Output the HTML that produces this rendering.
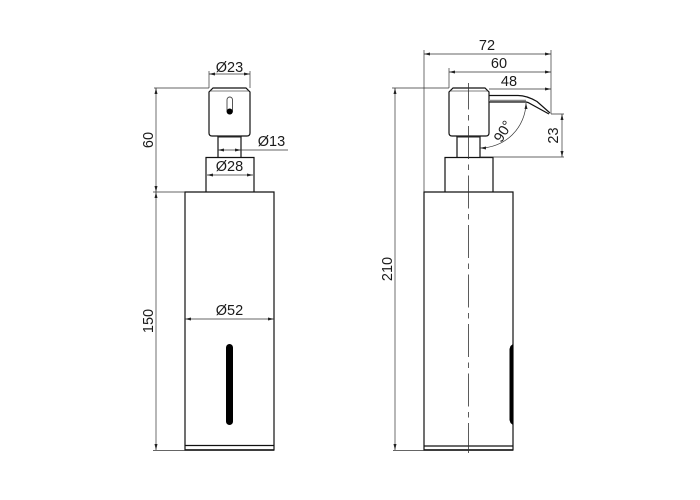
<!DOCTYPE html>
<html>
<head>
<meta charset="utf-8">
<style>
html,body{margin:0;padding:0;background:#fff;width:700px;height:500px;overflow:hidden}
svg{display:block}
text{font-family:"Liberation Sans",sans-serif;font-size:14.5px;fill:#1a1a1a}
.o{fill:none;stroke:#111;stroke-width:1.2}
.d{fill:none;stroke:#333;stroke-width:.7}
.a{fill:#222;stroke:none}
</style>
</head>
<body>
<svg width="700" height="500" viewBox="0 0 700 500" xmlns="http://www.w3.org/2000/svg">
<!-- LEFT VIEW -->
<path class="o" d="M185 450V192H274V450Z"/>
<path class="o" d="M185 445.500H274"/>
<path d="M185 450H274" fill="none" stroke="#111" stroke-width="1.400"/>
<rect x="226" y="344" width="7" height="81" rx="3.500" fill="#000"/>
<path class="o" d="M206 192V157.500H254V192"/>
<path class="o" d="M218 136.500V157.500M241 136.500V157.500"/>
<path class="o" d="M213 88H246L250 92V133Q250 136 247 136H212Q209 136 209 133V92Z"/>
<path d="M210.500 91H248.500" stroke="#555" stroke-width=".8" fill="none"/>
<path d="M218 136.500H241" stroke="#222" stroke-width="2" fill="none"/>
<rect x="227" y="97" width="5.500" height="17" rx="2.750" fill="#fff" stroke="#444" stroke-width=".9"/>
<circle cx="229.700" cy="111.500" r="3" fill="#000"/>
<!-- left dims -->
<path class="d" d="M154 88H209M153 192H185M153 450.500H185M156 88V192M156 192V450"/>
<path class="a" d="M156 88l-1.500 6h3zM156 192l-1.500-6h3zM156 192l-1.500 6h3zM156 450l-1.500-6h3z"/>
<path class="d" d="M209 71V88M250 71V88M209 74H250"/>
<path class="a" d="M209 74l6-1.500v3zM250 74l-6-1.500v3z"/>
<path class="d" d="M218 150H288"/>
<path class="a" d="M218 150l6-1.500v3zM241 150l-6-1.500v3z"/>
<path class="d" d="M207 175H253"/>
<path class="a" d="M207 175l6-1.500v3zM253 175l-6-1.500v3z"/>
<path class="d" d="M185 319H274"/>
<path class="a" d="M185 319l6-1.500v3zM274 319l-6-1.500v3z"/>
<text x="229.500" y="72" text-anchor="middle">Ø23</text>
<text x="271.500" y="146" text-anchor="middle">Ø13</text>
<text x="229.500" y="171" text-anchor="middle">Ø28</text>
<text x="229.500" y="315" text-anchor="middle">Ø52</text>
<text transform="translate(153 140) rotate(-90)" text-anchor="middle">60</text>
<text transform="translate(153 321) rotate(-90)" text-anchor="middle">150</text>

<!-- RIGHT VIEW -->
<path class="o" d="M424 450V192H513V450Z"/>
<path class="o" d="M424 446H513"/>
<path d="M424 450H513" fill="none" stroke="#111" stroke-width="1.400"/>
<path d="M513 344L510.500 346L509.500 349V420L510.500 423L513 425Z" fill="#000"/>
<path class="o" d="M445 192V157.500H493V192"/>
<path class="o" d="M457 136.500V157.500M480 136.500V157.500"/>
<path class="o" d="M453 88H485L489 92V133Q489 136 486 136H452Q449 136 449 133V92Z"/>
<path d="M450.500 91H487.500" stroke="#555" stroke-width=".8" fill="none"/>
<path d="M457 136.500H480" stroke="#222" stroke-width="2" fill="none"/>
<!-- spout -->
<path class="o" d="M489 95.500H518C525 95.500 531 98 537 101.500L550 113"/>
<path class="o" d="M489 102H526L528 102.500L549 114"/>
<path d="M489 100.500H526" stroke="#888" stroke-width="1.400" fill="none"/>
<!-- centre line -->
<path d="M468.500 83V453" fill="none" stroke="#333" stroke-width=".8" stroke-dasharray="33 5.500 5.500 5.500" stroke-dashoffset="6.500"/>
<!-- right dims -->
<path class="d" d="M424 50V192M449 68V88M551 50V114"/>
<path class="d" d="M424 54H551"/>
<path class="a" d="M424 54l6-1.500v3zM551 54l-6-1.500v3z"/>
<path class="d" d="M449 72H551"/>
<path class="a" d="M449 72l6-1.500v3zM551 72l-6-1.500v3z"/>
<path class="d" d="M489 89H551"/>
<path class="a" d="M551 89l-6-1.500v3z"/>
<path class="d" d="M392 88H449M393 450.500H424M395 88V450"/>
<path class="a" d="M395 88l-1.500 6h3zM395 450l-1.500-6h3z"/>
<path class="d" d="M551 114H564M480 157H564M562 114V157"/>
<path class="a" d="M562 114l-1.500 6h3zM562 157l-1.500-6h3z"/>
<path class="d" d="M526 103A46 46 0 0 1 480 148"/>
<path class="a" d="M526 103l-1.500 6h3zM480 148l6-1.500v3z"/>
<text x="487" y="50" text-anchor="middle">72</text>
<text x="499" y="68" text-anchor="middle">60</text>
<text x="509" y="86" text-anchor="middle">48</text>
<text transform="translate(392 269) rotate(-90)" text-anchor="middle">210</text>
<text transform="translate(558 135.500) rotate(-90)" text-anchor="middle">23</text>
<text transform="translate(504 139) rotate(-58)" text-anchor="middle" x="6" y="0">90°</text>
</svg>
</body>
</html>
